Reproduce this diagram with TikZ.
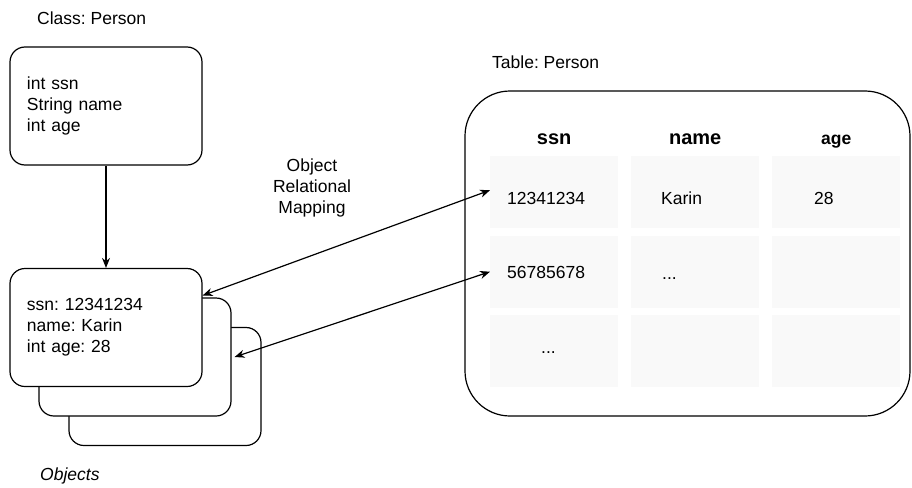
\documentclass[tikz,border=0pt]{standalone}
\usepackage{fontspec}
\setmainfont{Liberation Sans}
\usetikzlibrary{matrix, positioning, arrows.meta}
\frenchspacing

\begin{document}
\begin{tikzpicture}[x=1pt, y=-1pt,
  every node/.style={inner sep=2pt, font=\fontsize{17.5}{21}\selectfont},
  box/.style={draw, line width=1.2pt, rounded corners=15pt, fill=white,
    minimum height=118pt, inner xsep=17pt, text width=158pt, align=left},
  cell/.style={fill=black!2.5, minimum width=128pt, minimum height=72pt, inner sep=0pt},
  head/.style={font=\fontsize{20}{24}\selectfont\bfseries, inner sep=0pt, text depth=0pt},
  val/.style={anchor=base west, inner sep=0pt},
  link/.style={{Stealth[length=10pt, width=8pt]}-{Stealth[length=10pt, width=8pt]}, line width=1.2pt},
  arrow/.style={-{Stealth[length=10pt, width=8pt]}, line width=1.2pt}
]
\useasboundingbox (0,0) rectangle (912,487);

\node[box] (cls) at (106,106) {int ssn\\String name\\int age};
\node[val] (clsname) at (37,25) {Class: Person};

\node[box] (obj3) at (165,386.5) {};
\node[box] (obj2) at (135,357) {};
\node[box] (obj1) at (106,327.5) {ssn: 12341234\\name: Karin\\int age: 28};
\node[val, font=\fontsize{17.5}{21}\selectfont\itshape] (objname) at (40,480) {Objects};
\draw[arrow] (cls) -- (obj1);

\node[draw, line width=1.2pt, rounded corners=45pt, minimum width=445pt,
      minimum height=325pt] (tbl) at (687.5,253.5) {};
\node[val] (tblname) at (492,68) {Table: Person};

\matrix[matrix of nodes, nodes={cell}, nodes in empty cells, column sep=13pt,
        row sep=7.5pt, anchor=north west, ampersand replacement=\&] (tab) at (488,154) {
  \& \& \\
  \& \& \\
  \& \& \\
};
\node[head, above=11pt of tab-1-1] (hssn)  {ssn};
\node[head, above=11pt of tab-1-2] (hname) {name};
\node[head, font=\fontsize{17.5}{21}\selectfont\bfseries, above=11pt of tab-1-3] (hage) {age};

\node[val] (v11) at ([xshift=17pt, yshift=-12pt]tab-1-1.west) {12341234};
\node[val] (v12) at ([xshift=30pt, yshift=-12pt]tab-1-2.west) {Karin};
\node[val] (v13) at ([xshift=42pt, yshift=-12pt]tab-1-3.west) {28};
\node[val] (v21) at ([xshift=17pt, yshift=-7pt]tab-2-1.west)  {56785678};
\node[val] (v22) at ([xshift=31pt, yshift=-8pt]tab-2-2.west)  {...};
\node[val] (v31) at ([xshift=51pt, yshift=-2pt]tab-3-1.west)  {...};

\node[align=center] (orm) at (312,188) {Object\\Relational\\Mapping};
\draw[link] ([yshift=32pt]obj1.east) -- ([yshift=2pt]tab-1-1.west);
\draw[link] ([xshift=3pt]obj2.east) -- (tab-2-1.west);
\end{tikzpicture}
\end{document}
